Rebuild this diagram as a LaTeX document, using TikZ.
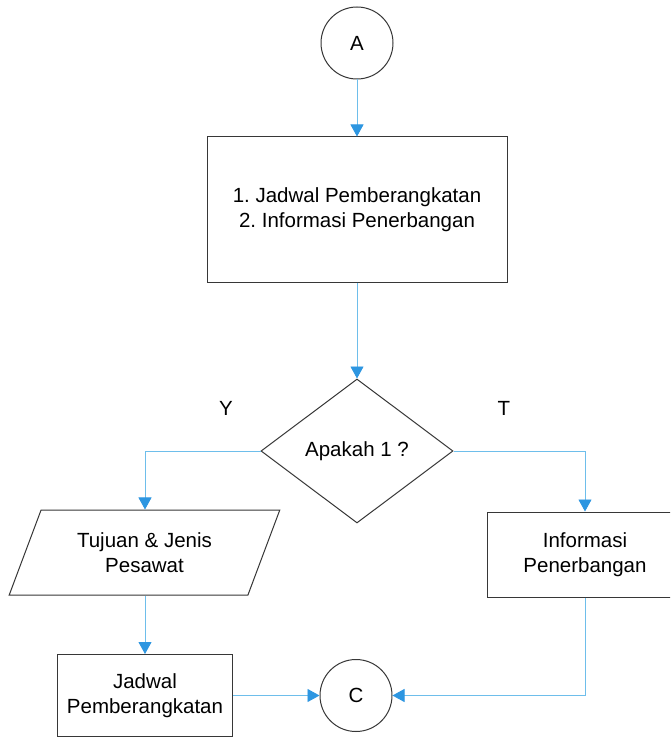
\documentclass[tikz,border=0pt]{standalone}
\usepackage{fontspec}
\setmainfont{Liberation Sans}
\usetikzlibrary{shapes.geometric,arrows.meta}
\definecolor{lineblue}{RGB}{110,190,235}
\definecolor{headblue}{RGB}{45,150,225}
\definecolor{shapegray}{RGB}{55,55,55}
\frenchspacing
\begin{document}
\begin{tikzpicture}[x=1pt,y=-1pt,
  every node/.style={font=\fontsize{20.5}{25}\selectfont, text=black, align=center},
  shapeline/.style={draw=shapegray, line width=1pt, fill=white},
  conn/.style={circle, shapeline, minimum size=72pt, inner sep=0pt},
  procbox/.style={rectangle, shapeline, inner sep=0pt},
  decision/.style={diamond, shapeline, minimum width=192pt, minimum height=144pt, inner sep=0pt},
  iobox/.style={trapezium, shapeline, trapezium left angle=62.6, trapezium right angle=117.4,
     trapezium stretches=true, minimum width=271pt, minimum height=85pt, inner sep=0pt},
  arr/.style={draw=lineblue, line width=0.9pt, -{Triangle[width=13pt,length=12pt,fill=headblue,color=headblue]}},
  lbl/.style={font=\fontsize{20.5}{25}\selectfont}
]
\clip (0,0) rectangle (670,738);
\fill[white] (0,0) rectangle (670,738);

\node[conn] (A) at (357,43) {A};
\node[procbox, minimum width=300pt, minimum height=145pt] (box1) at (357,209.5)
  {1. Jadwal Pemberangkatan\\2. Informasi Penerbangan};
\node[decision] (dia) at (357,451) {Apakah 1 ?};
\node[iobox] (par) at (144.5,552.5) {Tujuan \& Jenis\\Pesawat};
\node[procbox, minimum width=175pt, minimum height=82pt] (jad) at (145,695.5) {Jadwal\\Pemberangkatan};
\node[procbox, minimum width=196pt, minimum height=85pt] (info) at (585,554.5) {Informasi\\Penerbangan};
\node[conn] (C) at (356,695.5) {C};

\node[lbl] (ly) at (226,408) {Y};
\node[lbl] (lt) at (504,408) {T};

\draw[arr] (A.south) -- (box1.north);
\draw[arr] (box1.south) -- (dia.north);
\draw[arr] (dia.west) -| (jad.north |- par.north);
\draw[arr] (jad.north |- par.south) -- (jad.north);
\draw[arr] (jad.east) -- (C.west);
\draw[arr] (dia.east) -| (info.north);
\draw[arr] (info.south) |- (C.east);
\end{tikzpicture}
\end{document}
